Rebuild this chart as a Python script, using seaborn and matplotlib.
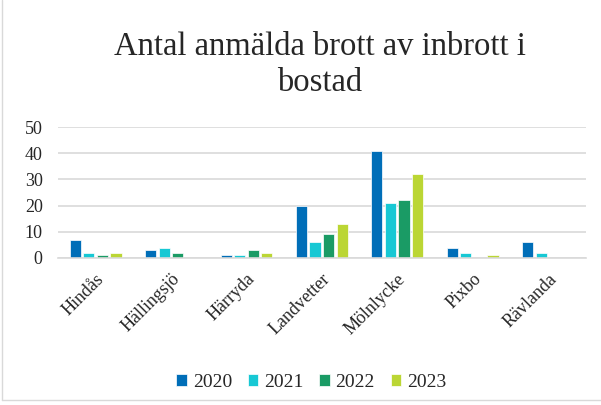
import numpy as np
import pandas as pd
import matplotlib
matplotlib.use("Agg")
import matplotlib.pyplot as plt
import seaborn as sns

# data
orter = ["Hindås", "Hällingsjö", "Härryda", "Landvetter", "Mölnlycke", "Pixbo", "Rävlanda"]
ar = ["2020", "2021", "2022", "2023"]
v2020 = [7, 3, 1, 20, 41, 4, 6]
v2021 = [2, 4, 1, 6, 21, 2, 2]
v2022 = [1, 2, 3, 9, 22, 0, 0]
v2023 = [2, 0, 2, 13, 32, 1, 0]

farger = ["#006EB8", "#17C8D4", "#1A9B65", "#BBD634"]

df = pd.DataFrame({"Ort": orter * 4,
                   "År": sum([[a] * len(orter) for a in ar], []),
                   "Antal": v2020 + v2021 + v2022 + v2023})

sns.set_style("white")
plt.rcParams["font.family"] = ["Liberation Serif", "DejaVu Serif"]

fig = plt.figure(figsize=(6.01, 4.05), dpi=100)
ax = fig.add_axes([0.0965, 0.363, 0.878, 0.323])

sns.barplot(data=df, x="Ort", y="Antal", hue="År", palette=farger, ax=ax,
            width=0.72, gap=0.18, saturation=1, edgecolor="white", linewidth=0.5)

ax.set_ylim(0, 50)
ax.set_yticks(range(0, 51, 10))
ax.yaxis.grid(True, color="#D9D9D9", linewidth=1.2)
ax.set_axisbelow(True)
for s in ["top", "right", "left"]:
    ax.spines[s].set_visible(False)
ax.spines["bottom"].set_color("#D9D9D9")
ax.spines["bottom"].set_linewidth(1.2)
ax.set_xlabel("")
ax.set_ylabel("")
ax.tick_params(axis="y", length=0, labelsize=13, pad=11)
ax.tick_params(axis="x", length=0, labelsize=13, pad=9)
plt.setp(ax.get_xticklabels(), rotation=45, ha="right", rotation_mode="anchor")

fig.text(0.532, 0.84, "Antal anmälda brott av inbrott i\nbostad", fontsize=23.5,
         ha="center", va="center", linespacing=1.2)

ax.legend(loc="center", bbox_to_anchor=(0.48, -0.95), ncol=4, frameon=False,
          fontsize=14, handlelength=0.55, handleheight=0.55, handletextpad=0.3, columnspacing=0.8)

# thin frame lines at left and bottom of the figure
fig.add_artist(plt.Line2D([0.004, 0.004], [0.012, 1], transform=fig.transFigure, color="#D9D9D9", linewidth=1))
fig.add_artist(plt.Line2D([0.004, 1], [0.012, 0.012], transform=fig.transFigure, color="#D9D9D9", linewidth=1))

fig.savefig("out.png", dpi=100)
